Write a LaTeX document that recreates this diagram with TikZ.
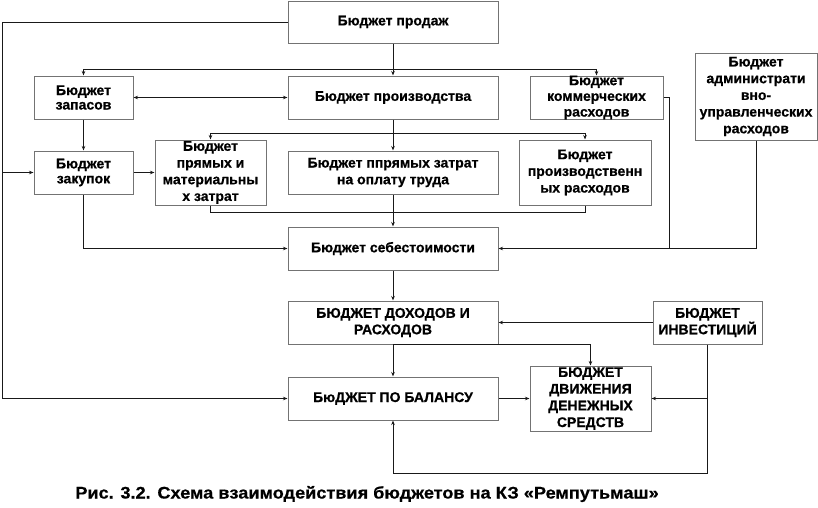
\documentclass[tikz,border=0pt]{standalone}
\usepackage{fontspec}
\setmainfont{Liberation Sans}[BoldFeatures={FakeBold=0.6}]
\newfontfamily\capfont{Liberation Sans}[FakeStretch=1.08,BoldFeatures={FakeBold=0.6}]
\usetikzlibrary{arrows.meta}
\newcommand\bx[7]{%
  \node[box,minimum width=#4pt,minimum height=#5pt] (#1) at (#2,#3) {};
  \node[lbl,font=\fontsize{14}{#6}\selectfont\bfseries] (#1t) at (#1.center) {#7};}
\begin{document}
\begin{tikzpicture}[x=1pt,y=-1pt,
  box/.style={draw=black!55,line width=1pt,rectangle,inner sep=0pt,fill=white},
  lbl/.style={align=center,inner sep=0pt,text=black},
  ln/.style={draw=black!90,line width=0.9pt},
  arr/.style={ln,-{Stealth[length=4.5pt,width=3.5pt]}},
  darr/.style={ln,{Stealth[length=4.5pt,width=3.5pt]}-{Stealth[length=4.5pt,width=3.5pt]}}]
\useasboundingbox (0,0) rectangle (818,507);
% boxes
\bx{sales}{393}{22}{210}{42}{15}{Бюджет продаж}
\bx{zap}{83.5}{97.5}{99}{43}{14.5}{Бюджет\\запасов}
\bx{prod}{393}{97.5}{210}{43}{15}{Бюджет производства}
\bx{kom}{596.5}{97.5}{133}{43}{15.7}{Бюджет\\коммерческих\\расходов}
\bx{adm}{756}{96.5}{122}{87}{16.7}{Бюджет\\администрати\\вно-\\управленческих\\расходов}
\bx{zak}{83.5}{172.5}{99}{43}{15}{Бюджет\\закупок}
\bx{pm}{210.5}{172.5}{111}{65}{16.7}{Бюджет\\прямых и\\материальны\\х затрат}
\bx{opl}{393}{172.5}{210}{43}{16.7}{Бюджет ппрямых затрат\\на оплату труда}
\bx{pr}{585}{172.5}{132}{65}{16.7}{Бюджет\\производственн\\ых расходов}
\bx{seb}{393}{248.5}{210}{43}{15}{Бюджет себестоимости}
\bx{doh}{393}{322.5}{210}{43}{16.5}{БЮДЖЕТ ДОХОДОВ И\\РАСХОДОВ}
\bx{inv}{707.5}{322.5}{109}{43}{16.5}{БЮДЖЕТ\\ИНВЕСТИЦИЙ}
\bx{bal}{393}{398.5}{210}{43}{15}{БюДЖЕТ ПО БАЛАНСУ}
\bx{dds}{590.5}{398.5}{121}{65}{16.7}{БЮДЖЕТ\\ДВИЖЕНИЯ\\ДЕНЕЖНЫХ\\СРЕДСТВ}
% caption
\node[lbl,font=\capfont\fontsize{16.8}{19}\selectfont\bfseries] (cap) at (367,494) {Рис. 3.2. Схема взаимодействия бюджетов на КЗ «Ремпутьмаш»};
% left loop from sales
\coordinate (lt) at (2,22);
\draw[arr] (sales.west) -- (lt) |- (bal.west);
\draw[arr] (lt |- zak.west) -- (zak.west);
% sales to first row
\coordinate (s1) at (393,69);
\draw[ln] (sales.south) -- (s1);
\draw[ln] (zap.north |- s1) -- (kom.north |- s1);
\draw[arr] (zap.north |- s1) -- (zap.north);
\draw[arr] (s1) -- (prod.north);
\draw[arr] (kom.north |- s1) -- (kom.north);
\draw[darr] (zap.east) -- (prod.west);
\draw[arr] (zap.south) -- (zak.north);
\draw[arr] (zak.east) -- (pm.west);
% production to second row
\coordinate (p1) at (393,133);
\draw[ln] (prod.south) -- (p1);
\draw[ln] (pm.north |- p1) -- (pr.north |- p1);
\draw[arr] (pm.north |- p1) -- (pm.north);
\draw[arr] (p1) -- (opl.north);
\draw[arr] (pr.north |- p1) -- (pr.north);
% second row to cost budget
\coordinate (m1) at (393,212);
\draw[ln] (pm.south) -- (pm.south |- m1) -- (pr.south |- m1) -- (pr.south);
\draw[arr] (opl.south) -- (seb.north);
\draw[arr] (zak.south) |- (seb.west);
\coordinate (k1) at (669,97.5);
\draw[ln] (kom.east) -- (k1) -- (k1 |- seb.east);
\draw[arr] (adm.south) |- (seb.east);
% lower part
\draw[arr] (seb.south) -- (doh.north);
\draw[arr] (doh.south) -- (bal.north);
\draw[arr] (doh.south) -| (dds.north);
\draw[arr] (inv.west) -- (doh.east);
\draw[arr] (inv.south) |- (dds.east);
\coordinate (b1) at (707.5,473);
\draw[arr] (inv.south) -- (b1) -| (bal.south);
\draw[arr] (bal.east) -- (dds.west);
\end{tikzpicture}
\end{document}
